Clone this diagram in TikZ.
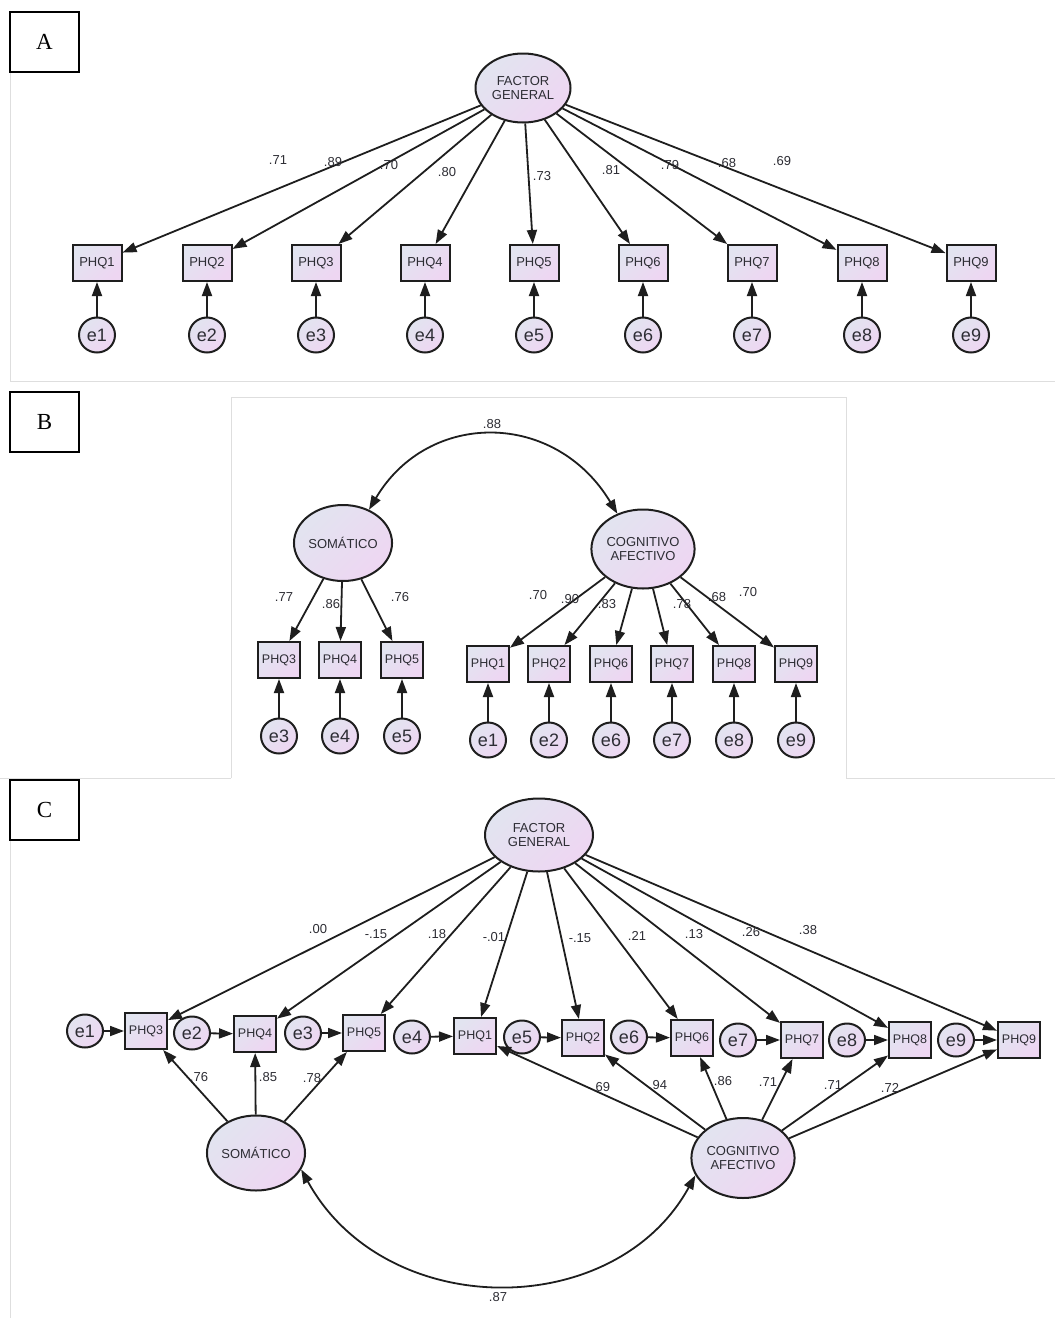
\documentclass[tikz,border=0pt]{standalone}
\usepackage{fontspec}
\setmainfont{Liberation Sans}
\newfontfamily\panelfont{Liberation Serif}
\usetikzlibrary{shapes.geometric,arrows.meta}
\definecolor{fillA}{RGB}{226,228,240}
\definecolor{fillB}{RGB}{238,214,242}
\definecolor{ink}{RGB}{30,30,30}
\definecolor{txt}{RGB}{45,45,52}
\definecolor{framegray}{RGB}{222,222,222}
\begin{document}
\begin{tikzpicture}[x=1pt,y=-1pt,
 shadefill/.style={top color=fillA,bottom color=fillB,shading angle=45},
 lat/.style={ellipse,draw=ink,line width=2pt,shadefill,inner sep=0pt,align=center,font=\fontsize{13}{14.5}\selectfont,text=txt},
 obsA/.style={rectangle,draw=ink,line width=2pt,shadefill,minimum width=49pt,minimum height=36pt,inner sep=0pt,font=\fontsize{13}{13}\selectfont,text=txt},
 obs/.style={obsA,minimum width=42pt,font=\fontsize{12.5}{12.5}\selectfont},
 err/.style={ellipse,draw=ink,line width=2pt,shadefill,minimum width=36pt,minimum height=35pt,inner sep=0pt,font=\fontsize{18}{18}\selectfont,text=txt},
 errC/.style={err,minimum height=33pt},
 pth/.style={-{Triangle[length=14pt,width=10pt]},line width=1.8pt,draw=ink},
 cov/.style={{Triangle[length=14pt,width=10pt]}-{Triangle[length=14pt,width=10pt]},line width=1.8pt,draw=ink},
 coef/.style={font=\fontsize{13}{13}\selectfont,text=txt,inner sep=0pt},
 panel/.style={draw=black,line width=1.6pt,fill=white,minimum width=69pt,minimum height=60pt,inner sep=0pt,font=\panelfont\fontsize{23}{23}\selectfont},
 frameline/.style={draw=framegray,line width=1pt}]
\useasboundingbox (0,0) rectangle (1055,1318);
\fill[white] (0,0) rectangle (1055,1318);

% ---------- frames ----------
\draw[frameline] (10,72) -- (10,381) -- (1055,381);
\draw[frameline] (231,778) -- (231,397) -- (846,397) -- (846,778);
\draw[frameline] (0,778) -- (231,778);
\draw[frameline] (846,778) -- (1055,778);
\draw[frameline] (10,840) -- (10,1318);

\node[panel] (panA) at (44.5,42) {A};
\node[panel] (panB) at (44.5,422) {B};
\node[panel] (panC) at (44.5,810) {C};

% ---------- Panel A ----------
\node[lat,minimum width=95pt,minimum height=69pt] (fgA) at (523,88) {FACTOR\\GENERAL};
\foreach \i/\x in {1/97,2/207,3/316,4/425,5/534,6/643,7/752,8/862,9/971} {
  \node[obsA] (pA\i) at (\x,263) {PHQ\i};
  \node[err] (eA\i) at (\x,335) {e\i};
  \draw[pth] (fgA) -- (pA\i);
  \draw[pth] (eA\i) -- (pA\i);
}
\foreach \n/\v/\x/\y in {1/.71/278/160,2/.89/333/162,3/.70/389/165,4/.80/447/172,5/.73/542/176,6/.81/611/170,7/.79/670/165,8/.68/727/163,9/.69/782/161}
  \node[coef] (cA\n) at (\x,\y) {\v};

% ---------- Panel B ----------
\node[lat,minimum width=82pt,minimum height=76pt] (somB) at (343,543) {SOMÁTICO};
\node[lat,minimum width=86pt,minimum height=79pt] (caB) at (643,549) {COGNITIVO\\AFECTIVO};
\draw[cov] (somB.52) .. controls (428,410) and (555,410) .. (caB.126);
\node[coef] (covB) at (492,424) {.88};
\foreach \i/\x in {3/279,4/340,5/402} {
  \node[obs] (pB\i) at (\x,660) {PHQ\i};
  \node[err] (eB\i) at (\x,736) {e\i};
  \draw[pth] (somB) -- (pB\i);
  \draw[pth] (eB\i) -- (pB\i);
}
\foreach \i/\x in {1/488,2/549,6/611,7/672,8/734,9/796} {
  \node[obs] (pB\i) at (\x,664) {PHQ\i};
  \node[err] (eB\i) at (\x,740) {e\i};
  \draw[pth] (caB) -- (pB\i);
  \draw[pth] (eB\i) -- (pB\i);
}
\foreach \n/\v/\x/\y in {3/.77/284/597,4/.86/331/604,5/.76/400/597,1/.70/538/595,2/.90/570/599,6/.83/607/604,7/.78/682/604,8/.68/717/597,9/.70/748/592}
  \node[coef] (cB\n) at (\x,\y) {\v};

% ---------- Panel C ----------
\node[lat,minimum width=108pt,minimum height=73pt] (fgC) at (539,835) {FACTOR\\GENERAL};
\node[lat,minimum width=88pt,minimum height=75pt] (somC) at (256,1153) {SOMÁTICO};
\node[lat,minimum width=86pt,minimum height=80pt] (caC) at (743,1158) {COGNITIVO\\AFECTIVO};
\foreach \i/\x/\y/\ex/\ey/\k in {3/146/1031/85/1031/1,4/255/1034/192/1033/2,5/364/1033/303/1033/3,1/475/1036/412/1037/4,2/583/1038/522/1037/5,6/692/1038/629/1037/6,7/802/1040/738/1040/7,8/910/1040/847/1040/8,9/1019/1040/956/1040/9} {
  \node[obs] (pC\i) at (\x,\y) {PHQ\i};
  \node[errC] (eC\k) at (\ex,\ey) {e\k};
  \draw[pth] (eC\k) -- (pC\i);
  \draw[pth] (fgC) -- (pC\i);
}
\foreach \i in {3,4,5} \draw[pth] (somC) -- (pC\i);
\foreach \i in {1,2,6,7,8,9} \draw[pth] (caC) -- (pC\i);
\draw[cov] (somC.-20) .. controls (385,1322) and (615,1322) .. (caC.200);
\node[coef] (covC) at (498,1297) {.87};
\foreach \n/\v/\x/\y in {t3/.00/318/929,t4/-.15/376/934,t5/.18/437/934,t1/-.01/494/937,t2/-.15/580/938,t6/.21/637/936,t7/.13/694/934,t8/.26/751/932,t9/.38/808/930,
  s3/.76/199/1077,s4/.85/268/1077,s5/.78/312/1078,
  a1/.69/601/1087,a2/.94/658/1085,a6/.86/723/1081,a7/.71/768/1082,a8/.71/833/1085,a9/.72/890/1088}
  \node[coef] (cC\n) at (\x,\y) {\v};
\end{tikzpicture}
\end{document}
